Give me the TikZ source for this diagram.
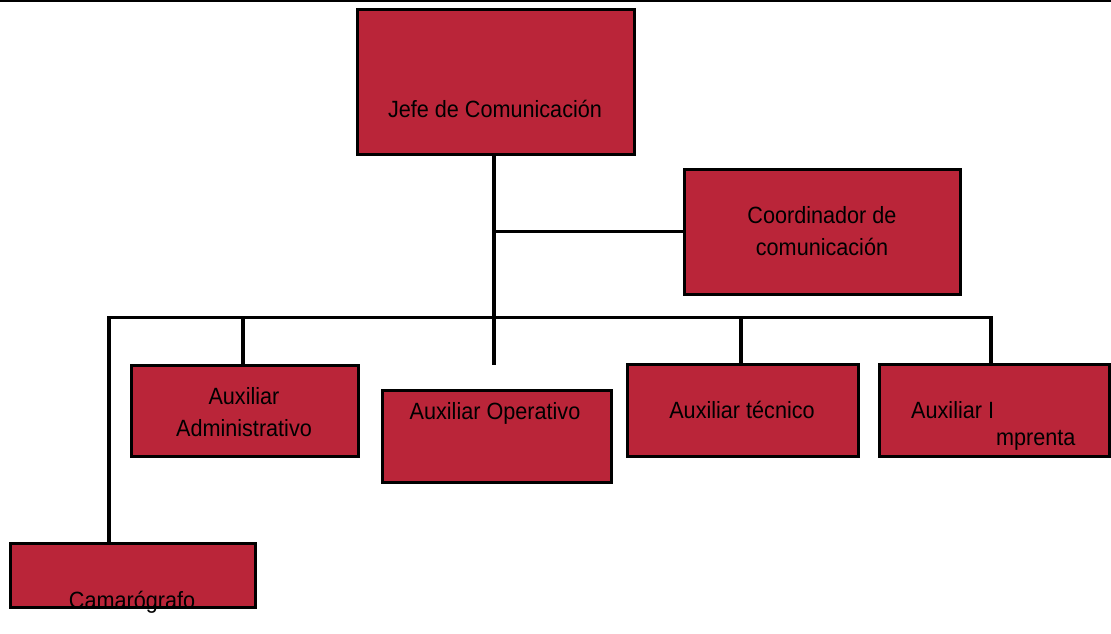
\documentclass[tikz,border=0pt]{standalone}
\usepackage{fontspec}
\setmainfont{Liberation Sans}[FakeStretch=0.92]
\definecolor{boxred}{RGB}{186,37,57}
\begin{document}
\begin{tikzpicture}[x=1pt,y=-1pt,
  box/.style={draw=black, line width=3pt, fill=boxred, inner sep=0pt, anchor=center},
  conn/.style={draw=black, line width=3.8pt, line join=miter},
  txt/.style={inner sep=0pt, font=\fontsize{23.5}{32}\selectfont, text=black, align=center}]
\useasboundingbox (0,0) rectangle (1111,634);
\draw[line width=2pt] (0,1) -- (1111,1);
% boxes
\node[box, minimum width=277pt, minimum height=144pt] (jefe) at (495.5,82) {};
\node[box, minimum width=276pt, minimum height=125pt] (coord) at (822,231.5) {};
\node[box, minimum width=227pt, minimum height=91pt] (admin) at (244.5,410.5) {};
\node[box, minimum width=229pt, minimum height=92pt] (oper) at (496.5,436) {};
\node[box, minimum width=231pt, minimum height=92pt] (tec) at (742.5,410) {};
\node[box, minimum width=230pt, minimum height=92pt] (impr) at (994,410) {};
\node[box, minimum width=245pt, minimum height=64pt] (cam) at (132.5,575) {};
% texts
\node[txt, anchor=base] (jefeT) at (495,117) {Jefe de Comunicación};
\node[txt, anchor=base] (coordT) at (822,255) {Coordinador de\\comunicación};
\node[txt, anchor=base] (adminT) at (244,436) {Auxiliar\\Administrativo};
\node[txt, anchor=base] (operT) at (495,419) {Auxiliar Operativo};
\node[txt, anchor=base] (tecT) at (742,418) {Auxiliar técnico};
\node[txt, anchor=base west] (imprT1) at (911,418) {Auxiliar I};
\node[txt, anchor=base west] (imprT2) at (996,445) {mprenta};
\node[txt, anchor=base] (camT) at (132,608) {Camarógrafo};
% connectors
\coordinate (opend) at (494,365);
\coordinate (cjoin) at (494,231.5);
\coordinate (busL) at (109,317.5);
\coordinate (busR) at (991,317.5);
\coordinate (adminTop) at (243,317.5);
\coordinate (tecTop) at (741,317.5);
\draw[conn] (jefe.south -| opend) -- (opend);
\draw[conn] (cjoin) -- (coord.west);
\draw[conn] (busL |- cam.north) -- (busL) -- (busR) -- (busR |- impr.north);
\draw[conn] (adminTop |- admin.north) -- (adminTop);
\draw[conn] (tecTop |- tec.north) -- (tecTop);
\end{tikzpicture}
\end{document}
